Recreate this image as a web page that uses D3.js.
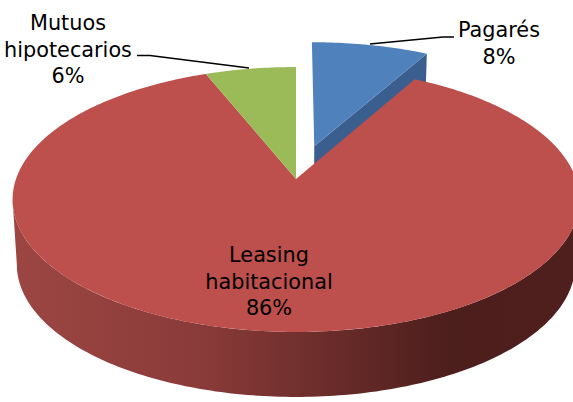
<!DOCTYPE html>
<html>
<head>
<meta charset="utf-8">
<script src="https://cdn.jsdelivr.net/npm/d3@7"></script>
<style>
  html, body { margin: 0; padding: 0; background: #fff; overflow: hidden; }
  text { font-family: "DejaVu Sans", sans-serif; font-size: 20.8px; fill: #000; text-anchor: middle; }
</style>
</head>
<body>
<div id="chart"></div>
<script>
// data
const categories = ["Pagarés", "Leasing habitacional", "Mutuos hipotecarios"];
const values = [8, 86, 6];
const sliceColors = ["#4f81bd", "#bd4f4c", "#9bbb59"];
const labelLines = [["Pagarés", "8%"], ["Leasing", "habitacional", "86%"], ["Mutuos", "hipotecarios", "6%"]];

const width = 573, height = 402;

// the tilted disc: apex on screen, half axes and perspective strength
const apex = {x: 296, y: 179}, rx = 280, ry = 129.3, persp = 0.1547;
const depth = 65, baseShrink = 0.985;
const explode = {pagares: 0.273};

// project disc coordinates (u right, v towards viewer) on to the screen
function project(u, v, drop = 0, shrink = 1) {
  const w = 1 - persp * v;
  return [apex.x + shrink * rx * u / w, apex.y + drop + ry * v / w];
}

function rim(a0, a1, off, drop = 0, shrink = 1) {
  const n = Math.max(2, Math.ceil((a1 - a0) * 60));
  return d3.range(n + 1).map(i => {
    const a = a0 + (a1 - a0) * i / n;
    return project(off[0] + Math.sin(a), off[1] - Math.cos(a), drop, shrink);
  });
}

const svg = d3.select("#chart").append("svg")
    .attr("width", width)
    .attr("height", height);

// shading of the red wall
const grad = svg.append("defs").append("linearGradient")
    .attr("id", "wall")
    .attr("gradientUnits", "userSpaceOnUse")
    .attr("x1", 15).attr("x2", 573).attr("y1", 0).attr("y2", 0);
[[0, "#9c4643"], [0.33, "#8a3b39"], [0.55, "#6c2d2b"], [0.78, "#4c1e1c"], [1, "#4f1f1d"]]
  .forEach(s => grad.append("stop").attr("offset", s[0]).attr("stop-color", s[1]));

const arcs = d3.pie().sort(null).startAngle(0).endAngle(2 * Math.PI)(values);
const line = d3.line().curve(d3.curveLinearClosed);

// Pagarés is pulled out along its own mid angle
const blue = arcs[0];
const mid = (blue.startAngle + blue.endAngle) / 2;
const off = [explode.pagares * Math.sin(mid), -explode.pagares * Math.cos(mid)];

// cut wall of the blue slice, mostly hidden behind the red one
const cutA = blue.endAngle;
svg.append("path")
    .attr("d", line([
      project(off[0], off[1]),
      project(off[0] + Math.sin(cutA), off[1] - Math.cos(cutA)),
      project(off[0] + Math.sin(cutA), off[1] - Math.cos(cutA), depth, baseShrink),
      project(off[0], off[1], depth, baseShrink)
    ]))
    .attr("fill", "#3a5f8e");

svg.append("path")
    .attr("d", line([project(off[0], off[1])].concat(rim(blue.startAngle, blue.endAngle, off))))
    .attr("fill", sliceColors[0]);

// red wall, between the two silhouette points of the rim
const silhouette = Math.acos(-persp);
svg.append("path")
    .attr("d", line(rim(silhouette, 2 * Math.PI - silhouette, [0, 0])
      .concat(rim(silhouette, 2 * Math.PI - silhouette, [0, 0], depth, baseShrink).reverse())))
    .attr("fill", "url(#wall)");

// top faces of red and green
[1, 2].forEach(i => {
  svg.append("path")
      .attr("d", line([project(0, 0)].concat(rim(arcs[i].startAngle, arcs[i].endAngle, [0, 0]))))
      .attr("fill", sliceColors[i]);
});

// leader lines
svg.selectAll(".leader")
  .data([
    [[370, 44], [443, 37], [454, 37]],
    [[137, 55.5], [150, 55.5], [249, 68]]
  ])
  .join("path")
    .attr("class", "leader")
    .attr("d", d3.line())
    .attr("fill", "none")
    .attr("stroke", "#000")
    .attr("stroke-width", 1.5);

// labels
const labelPos = [{x: 499, y: 37}, {x: 269, y: 262}, {x: 68, y: 30}];
labelLines.forEach((lines, i) => {
  const t = svg.append("text").attr("class", "label");
  lines.forEach((s, j) => {
    t.append("tspan")
      .attr("x", labelPos[i].x)
      .attr("y", labelPos[i].y + j * 26.5)
      .text(s);
  });
});
</script>
</body>
</html>
